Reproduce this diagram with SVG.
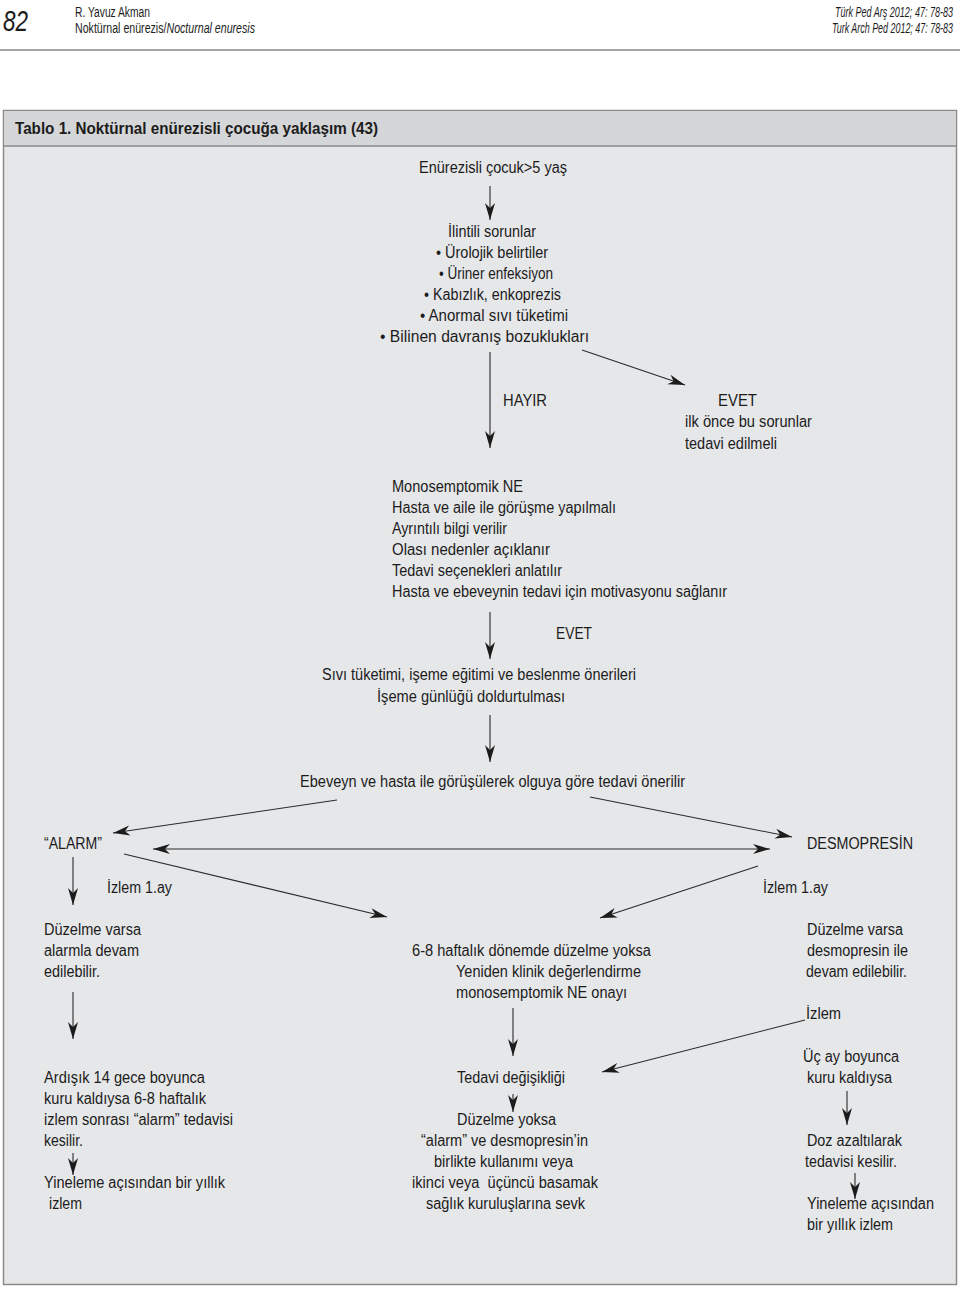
<svg xmlns="http://www.w3.org/2000/svg" width="960" height="1289" viewBox="0 0 960 1289">
<style>
text{font-family:"Liberation Sans",Arial,sans-serif;fill:#1c1c1c;font-size:16px}
.h{font-size:14px}
.it{font-style:italic}
.c{stroke:#2a2a2a;stroke-width:1.1;fill:none}
</style>
<defs>
<marker id="ah" viewBox="-18 -6 19 12" refX="0" refY="0" markerWidth="19" markerHeight="12" markerUnits="userSpaceOnUse" orient="auto-start-reverse">
<path d="M0,0 L-17,-5 L-12,0 L-17,5 Z" fill="#1c1c1c"/>
</marker>
</defs>
<rect width="960" height="1289" fill="#ffffff"/>
<g id="page-header">
<text x="3" y="31" class="it" style="font-size:30px" textLength="25" lengthAdjust="spacingAndGlyphs">82</text>
<text x="75" y="17" class="h" textLength="75" lengthAdjust="spacingAndGlyphs">R. Yavuz Akman</text>
<text x="75" y="33" class="h" textLength="180" lengthAdjust="spacingAndGlyphs">Noktürnal enürezis/<tspan class="it">Nocturnal enuresis</tspan></text>
<text x="953" y="17" class="h it" text-anchor="end" textLength="118" lengthAdjust="spacingAndGlyphs">Türk Ped Arş 2012; 47: 78-83</text>
<text x="953" y="33" class="h it" text-anchor="end" textLength="121" lengthAdjust="spacingAndGlyphs">Turk Arch Ped 2012; 47: 78-83</text>
<line x1="0" y1="50" x2="960" y2="50" stroke="#8a8a8a" stroke-width="1.5"/>
</g>
<g id="table-frame">
<rect x="3.5" y="110.5" width="953" height="1174" fill="#e6e7e9" stroke="#8a8a8a" stroke-width="1.5"/>
<rect x="4.25" y="111.25" width="951.5" height="34.5" fill="#d5d6d8"/>
<line x1="4" y1="146" x2="956" y2="146" stroke="#8a8a8a" stroke-width="1.5"/>
<text x="15" y="134" style="font-size:17px;font-weight:bold" textLength="363" lengthAdjust="spacingAndGlyphs">Tablo 1. Noktürnal enürezisli çocuğa yaklaşım (43)</text>
</g>
<g id="connectors">
<line class="c" x1="490" y1="186" x2="490" y2="220" marker-end="url(#ah)"/>
<line class="c" x1="490" y1="352" x2="490" y2="448" marker-end="url(#ah)"/>
<line class="c" x1="582" y1="350" x2="685" y2="385" marker-end="url(#ah)"/>
<line class="c" x1="490" y1="612" x2="490" y2="659" marker-end="url(#ah)"/>
<line class="c" x1="490" y1="715" x2="490" y2="762" marker-end="url(#ah)"/>
<line class="c" x1="337" y1="800" x2="113" y2="833" marker-end="url(#ah)"/>
<line class="c" x1="590" y1="797" x2="792" y2="837" marker-end="url(#ah)"/>
<line class="c" x1="153" y1="849" x2="770" y2="849" marker-start="url(#ah)" marker-end="url(#ah)"/>
<line class="c" x1="73" y1="857" x2="73" y2="905" marker-end="url(#ah)"/>
<line class="c" x1="124" y1="854" x2="387" y2="917" marker-end="url(#ah)"/>
<line class="c" x1="758" y1="866" x2="600" y2="918" marker-end="url(#ah)"/>
<line class="c" x1="73" y1="992" x2="73" y2="1039" marker-end="url(#ah)"/>
<line class="c" x1="513" y1="1008" x2="513" y2="1056" marker-end="url(#ah)"/>
<line class="c" x1="805" y1="1020" x2="602" y2="1072" marker-end="url(#ah)"/>
<line class="c" x1="73" y1="1153" x2="73" y2="1175" marker-end="url(#ah)"/>
<line class="c" x1="513" y1="1094" x2="513" y2="1112" marker-end="url(#ah)"/>
<line class="c" x1="847" y1="1091" x2="847" y2="1125" marker-end="url(#ah)"/>
<line class="c" x1="855" y1="1173" x2="855" y2="1199" marker-end="url(#ah)"/>
</g>
<g id="n-start">
<text x="419" y="173" textLength="148" lengthAdjust="spacingAndGlyphs">Enürezisli çocuk&gt;5 yaş</text>
</g>
<g id="n-problems">
<text x="448" y="237" textLength="88" lengthAdjust="spacingAndGlyphs">İlintili sorunlar</text>
<text x="436" y="258" textLength="112" lengthAdjust="spacingAndGlyphs">• Ürolojik belirtiler</text>
<text x="439" y="279" textLength="114" lengthAdjust="spacingAndGlyphs">• Üriner enfeksiyon</text>
<text x="424" y="300" textLength="137" lengthAdjust="spacingAndGlyphs">• Kabızlık, enkoprezis</text>
<text x="420" y="321" textLength="148" lengthAdjust="spacingAndGlyphs">• Anormal sıvı tüketimi</text>
<text x="380" y="342" textLength="209" lengthAdjust="spacingAndGlyphs">• Bilinen davranış bozuklukları</text>
</g>
<g id="l-hayir"><text x="503" y="406" textLength="44" lengthAdjust="spacingAndGlyphs">HAYIR</text></g>
<g id="n-evet-treat">
<text x="718" y="406" textLength="39" lengthAdjust="spacingAndGlyphs">EVET</text>
<text x="685" y="427" textLength="127" lengthAdjust="spacingAndGlyphs">ilk önce bu sorunlar</text>
<text x="685" y="449" textLength="92" lengthAdjust="spacingAndGlyphs">tedavi edilmeli</text>
</g>
<g id="n-mono">
<text x="392" y="492" textLength="131" lengthAdjust="spacingAndGlyphs">Monosemptomik NE</text>
<text x="392" y="513" textLength="224" lengthAdjust="spacingAndGlyphs">Hasta ve aile ile görüşme yapılmalı</text>
<text x="392" y="534" textLength="115" lengthAdjust="spacingAndGlyphs">Ayrıntılı bilgi verilir</text>
<text x="392" y="555" textLength="158" lengthAdjust="spacingAndGlyphs">Olası nedenler açıklanır</text>
<text x="392" y="576" textLength="170" lengthAdjust="spacingAndGlyphs">Tedavi seçenekleri anlatılır</text>
<text x="392" y="597" textLength="335" lengthAdjust="spacingAndGlyphs">Hasta ve ebeveynin tedavi için motivasyonu sağlanır</text>
</g>
<g id="l-evet2"><text x="556" y="639" textLength="36" lengthAdjust="spacingAndGlyphs">EVET</text></g>
<g id="n-advice">
<text x="322" y="680" textLength="314" lengthAdjust="spacingAndGlyphs">Sıvı tüketimi, işeme eğitimi ve beslenme önerileri</text>
<text x="377" y="702" textLength="188" lengthAdjust="spacingAndGlyphs">İşeme günlüğü doldurtulması</text>
</g>
<g id="n-decide">
<text x="300" y="787" textLength="385" lengthAdjust="spacingAndGlyphs">Ebeveyn ve hasta ile görüşülerek olguya göre tedavi önerilir</text>
</g>
<g id="n-alarm"><text x="44" y="849" textLength="58" lengthAdjust="spacingAndGlyphs">“ALARM”</text></g>
<g id="n-desmo"><text x="807" y="849" textLength="106" lengthAdjust="spacingAndGlyphs">DESMOPRESİN</text></g>
<g id="l-izlem-left"><text x="107" y="893" textLength="65" lengthAdjust="spacingAndGlyphs">İzlem 1.ay</text></g>
<g id="l-izlem-right"><text x="763" y="893" textLength="65" lengthAdjust="spacingAndGlyphs">İzlem 1.ay</text></g>
<g id="n-alarm-ok">
<text x="44" y="935" textLength="97" lengthAdjust="spacingAndGlyphs">Düzelme varsa</text>
<text x="44" y="956" textLength="95" lengthAdjust="spacingAndGlyphs">alarmla devam</text>
<text x="44" y="977" textLength="56" lengthAdjust="spacingAndGlyphs">edilebilir.</text>
</g>
<g id="n-reeval">
<text x="412" y="956" textLength="239" lengthAdjust="spacingAndGlyphs">6-8 haftalık dönemde düzelme yoksa</text>
<text x="456" y="977" textLength="185" lengthAdjust="spacingAndGlyphs">Yeniden klinik değerlendirme</text>
<text x="456" y="998" textLength="171" lengthAdjust="spacingAndGlyphs">monosemptomik NE onayı</text>
</g>
<g id="n-desmo-ok">
<text x="807" y="935" textLength="96" lengthAdjust="spacingAndGlyphs">Düzelme varsa</text>
<text x="807" y="956" textLength="101" lengthAdjust="spacingAndGlyphs">desmopresin ile</text>
<text x="806" y="977" textLength="101" lengthAdjust="spacingAndGlyphs">devam edilebilir.</text>
</g>
<g id="l-izlem"><text x="806" y="1019" textLength="35" lengthAdjust="spacingAndGlyphs">İzlem</text></g>
<g id="n-alarm-stop">
<text x="44" y="1083" textLength="161" lengthAdjust="spacingAndGlyphs">Ardışık 14 gece boyunca</text>
<text x="44" y="1104" textLength="162" lengthAdjust="spacingAndGlyphs">kuru kaldıysa 6-8 haftalık</text>
<text x="44" y="1125" textLength="189" lengthAdjust="spacingAndGlyphs">izlem sonrası “alarm” tedavisi</text>
<text x="44" y="1146" textLength="39" lengthAdjust="spacingAndGlyphs">kesilir.</text>
</g>
<g id="n-alarm-follow">
<text x="44" y="1188" textLength="181" lengthAdjust="spacingAndGlyphs">Yineleme açısından bir yıllık</text>
<text x="49" y="1209" textLength="33" lengthAdjust="spacingAndGlyphs">izlem</text>
</g>
<g id="n-change"><text x="457" y="1083" textLength="108" lengthAdjust="spacingAndGlyphs">Tedavi değişikliği</text></g>
<g id="n-refer">
<text x="457" y="1125" textLength="99" lengthAdjust="spacingAndGlyphs">Düzelme yoksa</text>
<text x="421" y="1146" textLength="167" lengthAdjust="spacingAndGlyphs">“alarm” ve desmopresin’in</text>
<text x="434" y="1167" textLength="139" lengthAdjust="spacingAndGlyphs">birlikte kullanımı veya</text>
<text x="412" y="1188" textLength="186" lengthAdjust="spacingAndGlyphs" xml:space="preserve">ikinci veya  üçüncü basamak</text>
<text x="426" y="1209" textLength="159" lengthAdjust="spacingAndGlyphs">sağlık kuruluşlarına sevk</text>
</g>
<g id="n-dry">
<text x="803" y="1062" textLength="96" lengthAdjust="spacingAndGlyphs">Üç ay boyunca</text>
<text x="807" y="1083" textLength="85" lengthAdjust="spacingAndGlyphs">kuru kaldıysa</text>
</g>
<g id="n-taper">
<text x="807" y="1146" textLength="95" lengthAdjust="spacingAndGlyphs">Doz azaltılarak</text>
<text x="805" y="1167" textLength="92" lengthAdjust="spacingAndGlyphs">tedavisi kesilir.</text>
</g>
<g id="n-desmo-follow">
<text x="807" y="1209" textLength="127" lengthAdjust="spacingAndGlyphs">Yineleme açısından</text>
<text x="807" y="1230" textLength="86" lengthAdjust="spacingAndGlyphs">bir yıllık izlem</text>
</g>
</svg>
